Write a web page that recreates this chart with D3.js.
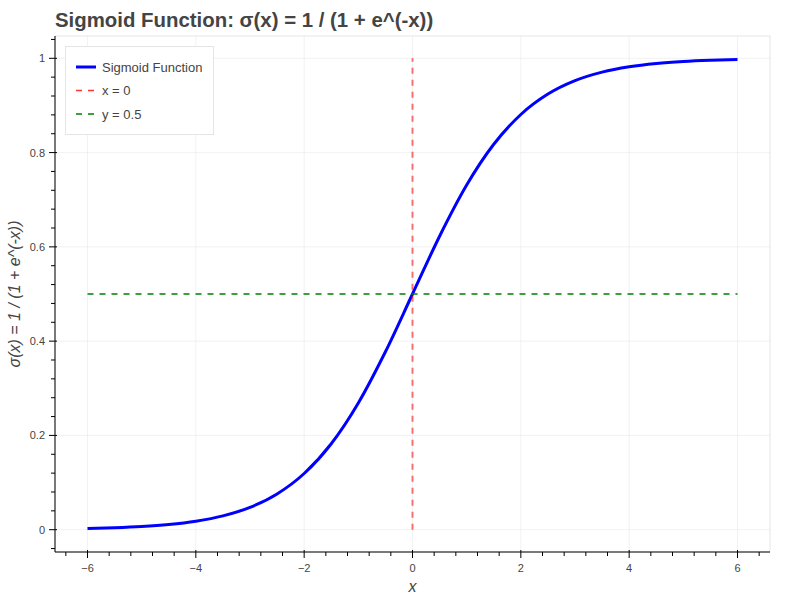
<!DOCTYPE html>
<html><head><meta charset="utf-8">
<script src="https://cdn.jsdelivr.net/npm/d3@7"></script>
<style>body{margin:0;background:#fff;} text{font-family:"Liberation Sans",Arial,Helvetica,sans-serif;}</style>
</head><body><svg id="c" width="800" height="600"></svg>
<script>
const xs = [-6,-5.5,-5,-4.5,-4,-3.5,-3,-2.5,-2,-1.5,-1,-0.5,0,0.5,1,1.5,2,2.5,3,3.5,4,4.5,5,5.5,6];
const ys = [0.0025,0.0041,0.0067,0.0110,0.0180,0.0293,0.0474,0.0759,0.1192,0.1824,0.2689,0.3775,0.5,0.6225,0.7311,0.8176,0.8808,0.9241,0.9526,0.9707,0.9820,0.9890,0.9933,0.9959,0.9975];
const xTicks = [-6,-4,-2,0,2,4,6];
const yTicks = [0,0.2,0.4,0.6,0.8,1];
const vLine = {x:0, y0:0, y1:1};
const hLine = {y:0.5, x0:-6, x1:6};
const legendLabels = ["Sigmoid Function","x = 0","y = 0.5"];
const titleText = "Sigmoid Function: σ(x) = 1 / (1 + e^(-x))";

const L=55, R=770, T=36, B=552;
const svg = d3.select("#c");
const x = d3.scaleLinear().domain([-6.6,6.6]).range([L,R]);
const y = d3.scaleLinear().domain([-0.0473,1.0473]).range([B,T]);

// outline
svg.append("rect").attr("x",L).attr("y",T).attr("width",R-L).attr("height",B-T)
  .attr("fill","none").attr("stroke","#e5e5e5");
// grid
svg.append("g").selectAll("line").data(xTicks).join("line")
  .attr("x1",d=>x(d)).attr("x2",d=>x(d)).attr("y1",T).attr("y2",B)
  .attr("stroke","#e5e5e5").attr("stroke-opacity",0.5);
svg.append("g").selectAll("line").data(yTicks).join("line")
  .attr("y1",d=>y(d)).attr("y2",d=>y(d)).attr("x1",L).attr("x2",R)
  .attr("stroke","#e5e5e5").attr("stroke-opacity",0.5);

// axes
const fmtX = d=>d3.format("")(d).replace("-","−");
const xMinor = d3.range(-6.4,6.6,0.4).map(v=>+v.toFixed(2)).filter(v=>!xTicks.some(t=>Math.abs(t-v)<1e-6));
const yMinor = d3.range(-0.04,1.05,0.04).map(v=>+v.toFixed(2)).filter(v=>!yTicks.some(t=>Math.abs(t-v)<1e-6));
const gx = svg.append("g");
gx.append("line").attr("x1",L).attr("x2",R).attr("y1",B).attr("y2",B).attr("stroke","#000");
gx.selectAll(".mj").data(xTicks).join("line").attr("x1",d=>x(d)).attr("x2",d=>x(d)).attr("y1",B-2).attr("y2",B+6).attr("stroke","#000");
gx.selectAll(".mn").data(xMinor).join("line").attr("x1",d=>x(d)).attr("x2",d=>x(d)).attr("y1",B).attr("y2",B+4).attr("stroke","#000");
gx.selectAll("text").data(xTicks).join("text").attr("x",d=>x(d)).attr("y",B+20)
  .attr("text-anchor","middle").attr("font-size",11).attr("fill","#444").text(fmtX);
const gy = svg.append("g");
gy.append("line").attr("x1",L).attr("x2",L).attr("y1",T).attr("y2",B).attr("stroke","#000");
gy.selectAll(".mj").data(yTicks).join("line").attr("y1",d=>y(d)).attr("y2",d=>y(d)).attr("x1",L-6).attr("x2",L+2).attr("stroke","#000");
gy.selectAll(".mn").data(yMinor).join("line").attr("y1",d=>y(d)).attr("y2",d=>y(d)).attr("x1",L-4).attr("x2",L).attr("stroke","#000");
gy.selectAll("text").data(yTicks).join("text").attr("x",L-10).attr("y",d=>y(d)+4)
  .attr("text-anchor","end").attr("font-size",11).attr("fill","#444").text(d=>d3.format("")(d));

// labels
svg.append("text").attr("x",x(0)).attr("y",592).attr("text-anchor","middle")
  .attr("font-size",16).attr("font-style","italic").attr("fill","#444").text("x");
svg.append("text").attr("transform",`translate(20,${(T+B)/2}) rotate(-90)`).attr("text-anchor","middle")
  .attr("font-size",16).attr("font-style","italic").attr("fill","#444").text("σ(x) = 1 / (1 + e^(-x))");
svg.append("text").attr("x",55).attr("y",27).attr("font-size",20.4).attr("font-weight","bold")
  .attr("fill","#444").text(titleText);

// data lines
const pts = xs.map((v,i)=>[v,ys[i]]);
svg.append("path").datum(pts).attr("fill","none").attr("stroke","blue").attr("stroke-width",3)
  .attr("d",d3.line().x(d=>x(d[0])).y(d=>y(d[1])).curve(d3.curveMonotoneX));
svg.append("line").attr("x1",x(vLine.x)).attr("x2",x(vLine.x)).attr("y1",y(vLine.y0)).attr("y2",y(vLine.y1))
  .attr("stroke","red").attr("stroke-opacity",0.55).attr("stroke-width",2).attr("stroke-dasharray","6,6");
svg.append("line").attr("x1",x(hLine.x0)).attr("x2",x(hLine.x1)).attr("y1",y(hLine.y)).attr("y2",y(hLine.y))
  .attr("stroke","green").attr("stroke-width",1.3).attr("stroke-dasharray","6,6");

// legend
const lg = svg.append("g");
lg.append("rect").attr("x",65.5).attr("y",46.5).attr("width",148).attr("height",88)
  .attr("fill","#fff").attr("fill-opacity",0.95).attr("stroke","#e5e5e5");
const styles = [{c:"blue",w:3,o:1,da:null},{c:"red",w:1.5,o:0.8,da:"6,6"},{c:"green",w:1.3,o:1,da:"6,6"}];
legendLabels.forEach((lab,i)=>{
  const yy = 67 + i*23.5;
  lg.append("line").attr("x1",76).attr("x2",96).attr("y1",yy).attr("y2",yy)
    .attr("stroke",styles[i].c).attr("stroke-width",styles[i].w).attr("stroke-opacity",styles[i].o)
    .attr("stroke-dasharray",styles[i].da);
  lg.append("text").attr("x",102).attr("y",yy+4.5).attr("font-size",13).attr("fill","#444").text(lab);
});
</script></body></html>
